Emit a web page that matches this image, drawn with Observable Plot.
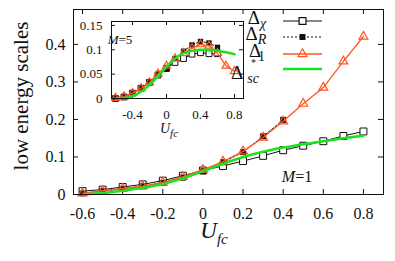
<!DOCTYPE html>
<html><head><meta charset="utf-8">
<script src="https://cdn.jsdelivr.net/npm/d3@7"></script>
<script src="https://cdn.jsdelivr.net/npm/@observablehq/plot@0.6"></script>
<style>
body{margin:0;background:#fff;}
#wrap{position:relative;width:395px;height:261px;overflow:hidden;background:#fff;}
#wrap svg{position:absolute;overflow:visible;background:transparent !important;}
</style></head><body><div id="wrap"></div>
<script>
// ---- data ----
const uVals = [-0.6,-0.5,-0.4,-0.3,-0.2,-0.1,0,0.1,0.2,0.3,0.4,0.5,0.6,0.7,0.8];
// M = 1 (main panel)
const chiM1 = [0.009,0.013,0.020,0.027,0.037,0.050,0.064,0.076,0.089,0.103,0.118,0.130,0.142,0.156,0.168];
const rM1   = [0.003,0.009,0.015,0.022,0.031,0.045,0.062,0.086,0.113,0.155,0.199];
const d1M1  = [0.003,0.010,0.016,0.022,0.032,0.047,0.066,0.088,0.115,0.152,0.195,0.242,0.285,0.355,0.421];
const scM1  = [0.000,0.004,0.010,0.018,0.028,0.043,0.062,0.082,0.100,0.114,0.125,0.134,0.142,0.150,0.157];
// M = 5 (inset)
const chiM5 = [0.000,0.003,0.011,0.021,0.033,0.048,0.062,0.074,0.082,0.091,0.094,0.092,0.092];
const rM5   = [0.001,0.004,0.011,0.021,0.034,0.050,0.060,0.082,0.097,0.110,0.117,0.114,0.105];
const d1M5  = [0.001,0.004,0.011,0.021,0.033,0.051,0.067,0.082,0.093,0.103,0.111,0.108,0.093,0.067,0.056];
const scM5  = [0.000,0.001,0.005,0.014,0.028,0.046,0.065,0.082,0.093,0.098,0.100,0.100,0.098,0.095,0.091];
// ticks
const xTicksMain = [-0.6,-0.4,-0.2,0,0.2,0.4,0.6,0.8];
const yTicksMain = [0,0.1,0.2,0.3,0.4];
const xTicksInset = [-0.4,0,0.4,0.8];
const yTicksInset = [0,0.05,0.1,0.15];

const rows = arr => arr.map((v,i)=>({u:uVals[i], v}));
const SERIF = "'Liberation Serif','Times New Roman',serif";
const ORANGE = "#ff5522", GREEN = "#1fe01f", INK = "#111";
const fmt = d => String(d);

function seriesMarks(chi, r, d1, sc, s) {
  return [
    Plot.line(rows(chi), {x:"u", y:"v", stroke:INK, strokeWidth:1}),
    Plot.dot(rows(chi), {x:"u", y:"v", symbol:"square", r:s.sq, stroke:INK, fill:"white", strokeWidth:1}),
    Plot.line(rows(r), {x:"u", y:"v", stroke:INK, strokeWidth:1, strokeDasharray:"2,2"}),
    Plot.dot(rows(r), {x:"u", y:"v", symbol:"square", r:s.fsq, fill:INK, stroke:"none"}),
    Plot.line(rows(d1), {x:"u", y:"v", stroke:ORANGE, strokeWidth:1.3}),
    Plot.dot(rows(d1), {x:"u", y:"v", symbol:"triangle", r:s.tri, stroke:ORANGE, fill:"none", strokeWidth:1.2}),
    Plot.line(rows(sc), {x:"u", y:"v", stroke:GREEN, strokeWidth:2.6, curve:"monotone-x"})
  ];
}

const wrap = document.getElementById("wrap");

// ---- inset (drawn first, main panel overlays with transparent background) ----
const IW = 132, IH = 77;
const inset = Plot.plot({
  width:175, height:140, marginLeft:31, marginRight:12, marginTop:11, marginBottom:52,
  x:{domain:[-0.647,0.906]}, y:{domain:[0,0.158]},
  style:{fontFamily:SERIF, fontSize:"13px", background:"transparent", color:INK},
  marks:[
    Plot.frame({fill:"white", stroke:"none"}),
    Plot.axisX({ticks:xTicksInset, tickSize:0, tickPadding:11, tickFormat:fmt, label:null, fontSize:13}),
    Plot.axisY({ticks:yTicksInset, tickSize:0, tickPadding:9, tickFormat:fmt, label:null, fontSize:13}),
    Plot.ruleX(xTicksInset, {x:d=>d, insetTop:IH-4, stroke:INK}),
    Plot.ruleX(xTicksInset, {x:d=>d, insetBottom:IH-4, stroke:INK}),
    Plot.ruleY(yTicksInset, {y:d=>d, insetRight:IW-4, stroke:INK}),
    Plot.ruleY(yTicksInset, {y:d=>d, insetLeft:IW-4, stroke:INK}),
    ...seriesMarks(chiM5, rM5, d1M5, scM5, {sq:3.3, fsq:3.0, tri:3.0}),
    Plot.frame({stroke:INK})
  ]
});
inset.style.left = "80px"; inset.style.top = "10px";
inset.style.setProperty("background","transparent","important");
wrap.append(inset);
const is = d3.select(inset);
const m5 = is.append("text").attr("x",40).attr("y",34).attr("font-family",SERIF).attr("font-size",13).attr("fill",INK);
m5.append("tspan").attr("font-style","italic").text("M");
m5.append("tspan").text("=5");
const ixl = is.append("text").attr("x",89).attr("y",123).attr("font-family",SERIF).attr("fill",INK);
ixl.append("tspan").attr("font-style","italic").attr("font-size",14).text("U");
ixl.append("tspan").attr("font-style","italic").attr("font-size",11).attr("dy",4).text("fc");

// ---- main panel ----
const FW = 310, FH = 185;
const main = Plot.plot({
  width:395, height:261, marginLeft:73, marginRight:12, marginTop:9, marginBottom:67,
  x:{domain:[-0.645,0.9]}, y:{domain:[0,0.493]},
  style:{fontFamily:SERIF, fontSize:"16px", background:"transparent", color:INK},
  marks:[
    Plot.axisX({ticks:xTicksMain, tickSize:0, tickPadding:13, tickFormat:fmt, label:null, fontSize:16}),
    Plot.axisY({ticks:yTicksMain, tickSize:0, tickPadding:8, tickFormat:fmt, label:null, fontSize:16}),
    Plot.ruleX(xTicksMain, {x:d=>d, insetTop:FH-5, stroke:INK}),
    Plot.ruleX(xTicksMain, {x:d=>d, insetBottom:FH-5, stroke:INK}),
    Plot.ruleY(yTicksMain, {y:d=>d, insetRight:FW-5, stroke:INK}),
    Plot.ruleY(yTicksMain, {y:d=>d, insetLeft:FW-5, stroke:INK}),
    ...seriesMarks(chiM1, rM1, d1M1, scM1, {sq:3.9, fsq:3.4, tri:3.3}),
    Plot.frame({stroke:INK})
  ]
});
main.style.left = "0px"; main.style.top = "0px";
main.style.setProperty("background","transparent","important");
wrap.append(main);

const ms = d3.select(main);
// y label
ms.append("text").attr("transform","translate(28,96) rotate(-90)")
  .attr("text-anchor","middle").attr("font-family",SERIF).attr("font-size",21).attr("fill",INK)
  .text("low energy scales");
// x label
const xl = ms.append("text").attr("x",214).attr("y",238).attr("font-family",SERIF).attr("fill",INK);
xl.append("tspan").attr("font-style","italic").attr("font-size",23).text("U");
xl.append("tspan").attr("font-style","italic").attr("font-size",15).attr("dy",6).text("fc");
// M=1
const m1 = ms.append("text").attr("x",297).attr("y",182).attr("font-family",SERIF).attr("font-size",16).attr("fill",INK);
m1.append("tspan").attr("font-style","italic").text("M");
m1.append("tspan").text("=1");

// legend
const lg = ms.append("g");
const legendRows = [
  {y:21, dash:null, stroke:INK, w:1, sym:d3.symbolSquare, r:3.9, fill:"white", sstroke:INK},
  {y:37, dash:"2,2", stroke:INK, w:1, sym:d3.symbolSquare, r:3.4, fill:INK, sstroke:"none"},
  {y:54, dash:null, stroke:ORANGE, w:1.3, sym:d3.symbolTriangle, r:3.3, fill:"none", sstroke:ORANGE},
  {y:69, dash:null, stroke:GREEN, w:2.6, sym:null}
];
legendRows.forEach(d=>{
  lg.append("line").attr("x1",283).attr("x2",322).attr("y1",d.y).attr("y2",d.y)
    .attr("stroke",d.stroke).attr("stroke-width",d.w).attr("stroke-dasharray",d.dash);
  if (d.sym) lg.append("path").attr("transform",`translate(302.5,${d.y})`)
    .attr("d", d3.symbol(d.sym, Math.PI*d.r*d.r)()).attr("fill",d.fill).attr("stroke",d.sstroke).attr("stroke-width",1.2);
});
function lab(x, y, parts) {
  const t = lg.append("text").attr("x",x).attr("y",y).attr("font-family",SERIF).attr("fill",INK);
  parts.forEach(p=>{
    const s = t.append("tspan").attr("font-size",p.fs).text(p.t);
    if (p.i) s.attr("font-style","italic");
    if (p.dy) s.attr("dy",p.dy);
    if (p.dx) s.attr("dx",p.dx);
  });
}
lab(257, 24, [{t:"Δ",fs:19},{t:"χ",fs:14,i:1,dy:4}]);
lab(256, 40, [{t:"Δ",fs:19},{t:"R",fs:14,i:1,dy:4}]);
lab(257, 57, [{t:"Δ",fs:19},{t:"1",fs:14,dx:-3,dy:4},{t:"*",fs:10,dx:-14,dy:5}]);
lab(245, 79, [{t:"Δ",fs:19},{t:"sc",fs:14,i:1,dy:4,dx:4}]);
</script></body></html>
